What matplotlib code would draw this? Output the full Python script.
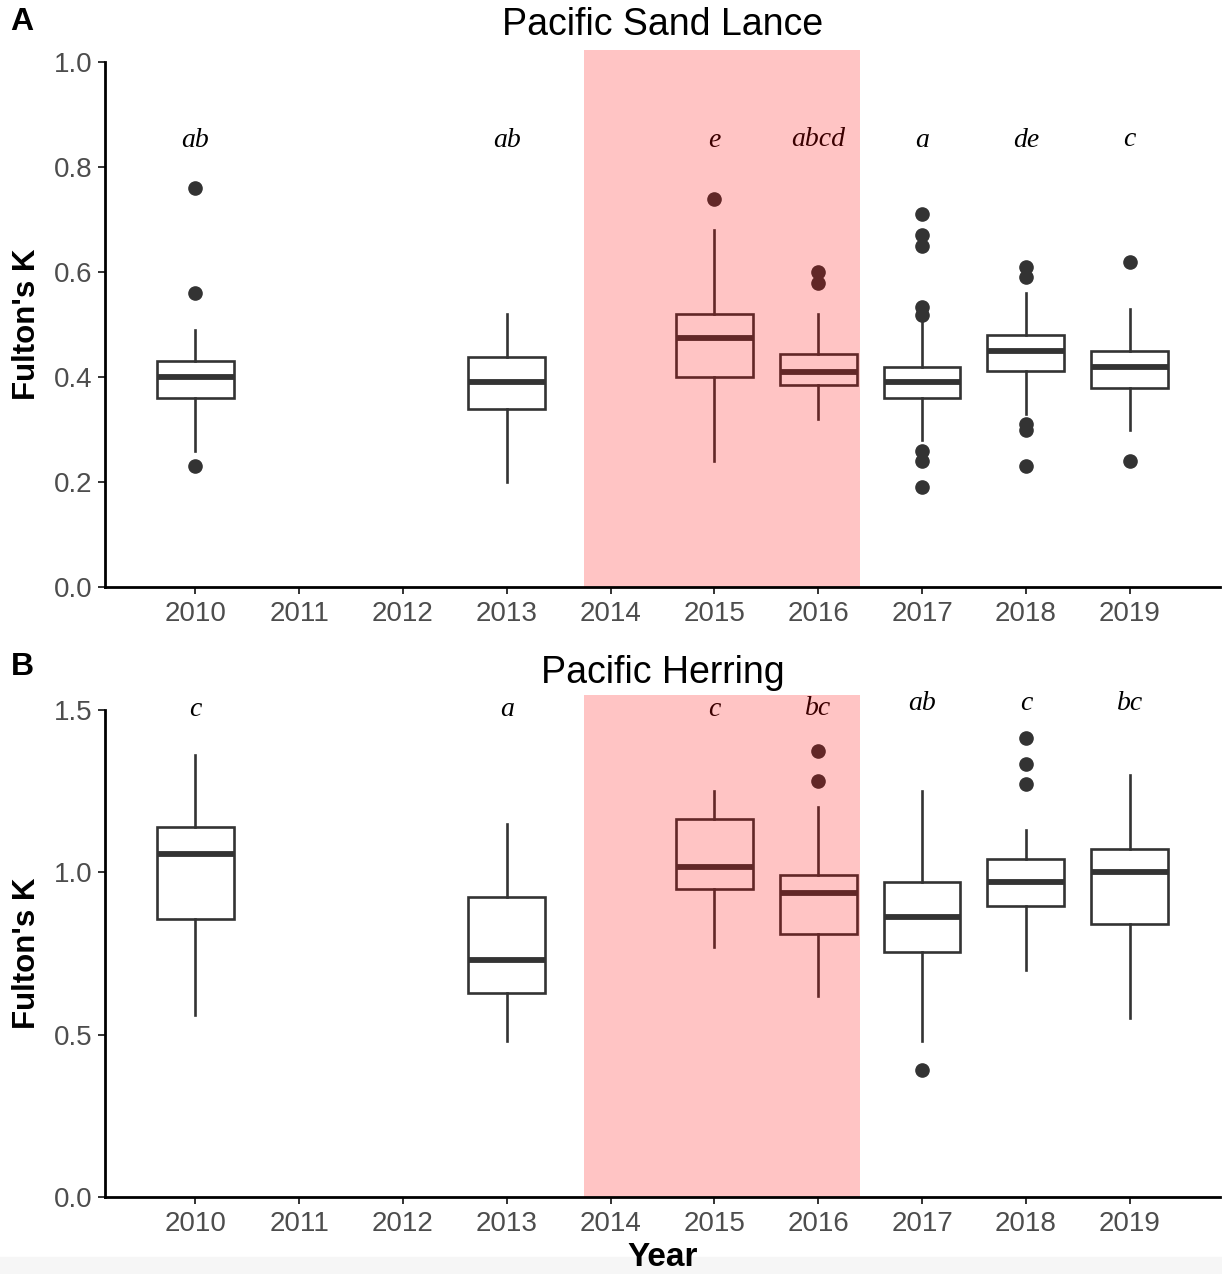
import matplotlib
matplotlib.use('Agg')
import matplotlib.pyplot as plt
from matplotlib.patches import Rectangle

# x axis years
years = [2010, 2011, 2012, 2013, 2014, 2015, 2016, 2017, 2018, 2019]
box_years = [2010, 2013, 2015, 2016, 2017, 2018, 2019]

# Pacific Sand Lance
sl_low = [0.26, 0.20, 0.24, 0.32, 0.28, 0.33, 0.30]
sl_q1 = [0.36, 0.34, 0.40, 0.385, 0.36, 0.411, 0.38]
sl_med = [0.40, 0.39, 0.475, 0.41, 0.39, 0.45, 0.42]
sl_q3 = [0.43, 0.438, 0.52, 0.444, 0.419, 0.48, 0.45]
sl_high = [0.49, 0.52, 0.68, 0.52, 0.51, 0.56, 0.53]
sl_out = [[0.76, 0.56, 0.23], [], [0.74], [0.60, 0.58],
          [0.71, 0.67, 0.65, 0.533, 0.518, 0.26, 0.24, 0.19],
          [0.61, 0.59, 0.31, 0.30, 0.23], [0.62, 0.24]]
sl_letters = ['ab', 'ab', 'e', 'abcd', 'a', 'de', 'c']
sl_letter_y = [0.85, 0.85, 0.85, 0.852, 0.85, 0.85, 0.853]

# Pacific Herring
h_low = [0.56, 0.48, 0.77, 0.62, 0.48, 0.70, 0.55]
h_q1 = [0.855, 0.628, 0.949, 0.81, 0.755, 0.896, 0.84]
h_med = [1.058, 0.73, 1.017, 0.936, 0.862, 0.97, 1.0]
h_q3 = [1.14, 0.924, 1.164, 0.992, 0.97, 1.041, 1.072]
h_high = [1.36, 1.15, 1.25, 1.20, 1.25, 1.13, 1.30]
h_out = [[], [], [], [1.374, 1.281], [0.39], [1.414, 1.334, 1.272], []]
h_letters = ['c', 'a', 'c', 'bc', 'ab', 'c', 'bc']
h_letter_y = [1.50, 1.50, 1.50, 1.505, 1.52, 1.52, 1.52]

plt.rcParams['font.family'] = ['Liberation Sans', 'DejaVu Sans']

fig = plt.figure(figsize=(12.22, 12.74), dpi=100)
fig.patches.append(Rectangle((0, 0), 1, 17 / 1274, transform=fig.transFigure,
                             color='#f6f6f6', zorder=0))

W, H = 1222.0, 1274.0


def panel(top, bottom, title, title_y, ymax, yticks, low, q1, med, q3, high,
          out, letters, letter_y, rect_top):
    ax = fig.add_axes([105 / W, 1 - bottom / H, 1115 / W, (bottom - top) / H])
    stats = []
    for i in range(len(box_years)):
        stats.append({'whislo': low[i], 'q1': q1[i], 'med': med[i],
                      'q3': q3[i], 'whishi': high[i], 'fliers': out[i]})
    ax.bxp(stats, positions=box_years, widths=0.74, showcaps=False,
           patch_artist=True, manage_ticks=False,
           boxprops=dict(facecolor='white', edgecolor='#333333', linewidth=1.9),
           whiskerprops=dict(color='#333333', linewidth=1.9),
           medianprops=dict(color='#333333', linewidth=4.2, solid_capstyle='butt'),
           flierprops=dict(marker='o', markerfacecolor='#333333',
                           markeredgecolor='#333333', markersize=9.5))
    for x, s, y in zip(box_years, letters, letter_y):
        ax.text(x, y, s, ha='center', va='center', fontsize=20,
                family='Liberation Serif', style='italic', color='black',
                zorder=3)
    ax.add_patch(Rectangle((2013.74, 0), 2016.40 - 2013.74, rect_top,
                           facecolor='red', alpha=0.23, edgecolor='none',
                           zorder=6, clip_on=False))
    ax.set_xlim(2009.13, 2019.87)
    ax.set_ylim(0, ymax)
    ax.set_xticks(years)
    ax.set_yticks(yticks)
    ax.set_yticklabels(['%.1f' % v for v in yticks])
    for s in ['top', 'right']:
        ax.spines[s].set_visible(False)
    for s in ['left', 'bottom']:
        ax.spines[s].set_linewidth(2.0)
        ax.spines[s].set_zorder(8)
    ax.tick_params(axis='both', length=5, width=1.4, color='#333333',
                   labelsize=20, labelcolor='#4d4d4d')
    ax.tick_params(axis='x', pad=5)
    ax.tick_params(axis='y', pad=4)
    fig.text(663 / W, 1 - title_y / H, title, ha='center', va='center',
             fontsize=27)
    fig.text(27 / W, 1 - (top + bottom) / 2 / H, "Fulton's K", rotation=90,
             ha='center', va='center', fontsize=22.5, fontweight='bold')
    return ax


panel(62, 587, 'Pacific Sand Lance', 25, 1.0, [0.0, 0.2, 0.4, 0.6, 0.8, 1.0],
      sl_low, sl_q1, sl_med, sl_q3, sl_high, sl_out, sl_letters, sl_letter_y,
      1.023)
panel(710, 1197, 'Pacific Herring', 673, 1.5, [0.0, 0.5, 1.0, 1.5],
      h_low, h_q1, h_med, h_q3, h_high, h_out, h_letters, h_letter_y, 1.546)

fig.text(22 / W, 1 - 22 / H, 'A', ha='center', va='center', fontsize=23,
         fontweight='bold')
fig.text(22 / W, 1 - 667 / H, 'B', ha='center', va='center', fontsize=23,
         fontweight='bold')
fig.text(663 / W, 1 - 1257 / H, 'Year', ha='center', va='center', fontsize=24,
         fontweight='bold')

fig.savefig('out.png', dpi=100)
